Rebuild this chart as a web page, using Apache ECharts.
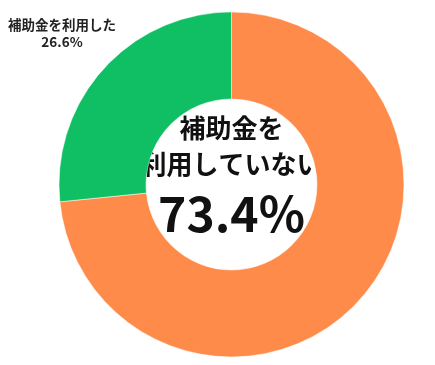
<!DOCTYPE html>
<html>
<head>
<meta charset="utf-8">
<script src="https://cdn.jsdelivr.net/npm/echarts@6/dist/echarts.min.js"></script>
<style>
html,body{margin:0;padding:0;background:#fff;}
#chart{width:435px;height:365px;}
</style>
</head>
<body>
<div id="chart"></div>
<script>
const categories = ['補助金を利用していない', '補助金を利用した'];
const values = [73.4, 26.6];
const colors = ['#FF8B4B', '#10BE63'];
const centerLines = ['補助金を', '利用していない'];
const usedLines = ['補助金を利用した'];

const chart = echarts.init(document.getElementById('chart'), null, {renderer: 'canvas'});
const font = '"Noto Sans CJK JP", "Noto Sans", sans-serif';
chart.setOption({
  animation: false,
  backgroundColor: '#fff',
  series: [{
    type: 'pie',
    center: [231.5, 184.5],
    radius: [85.5, 172.5],
    startAngle: 90,
    clockwise: true,
    label: {show: false},
    labelLine: {show: false},
    itemStyle: {borderColor: '#fff', borderWidth: 0.5},
    emphasis: {disabled: true},
    data: categories.map((c, i) => ({name: c, value: values[i], itemStyle: {color: colors[i]}}))
  }],
  graphic: [
    {type: 'text', x: 62, y: 25, style: {text: usedLines[0], font: 'bold 13.5px ' + font, fill: '#222', align: 'center', verticalAlign: 'middle'}},
    {type: 'text', x: 62, y: 42, style: {text: values[1].toFixed(1) + '%', font: 'bold 13.5px ' + font, fill: '#222', align: 'center', verticalAlign: 'middle'}},
    {type: 'text', x: 231.5, y: 128, style: {text: centerLines[0], font: 'bold 26px ' + font, fill: '#111', align: 'center', verticalAlign: 'middle'}},
    {type: 'text', x: 231.5, y: 164, style: {text: centerLines[1], font: 'bold 26px ' + font, fill: '#111', align: 'center', verticalAlign: 'middle'}},
    {type: 'text', x: 231.5, y: 214, style: {text: values[0].toFixed(1) + '%', font: 'bold 48px ' + font, fill: '#111', align: 'center', verticalAlign: 'middle'}}
  ]
});
</script>
</body>
</html>
